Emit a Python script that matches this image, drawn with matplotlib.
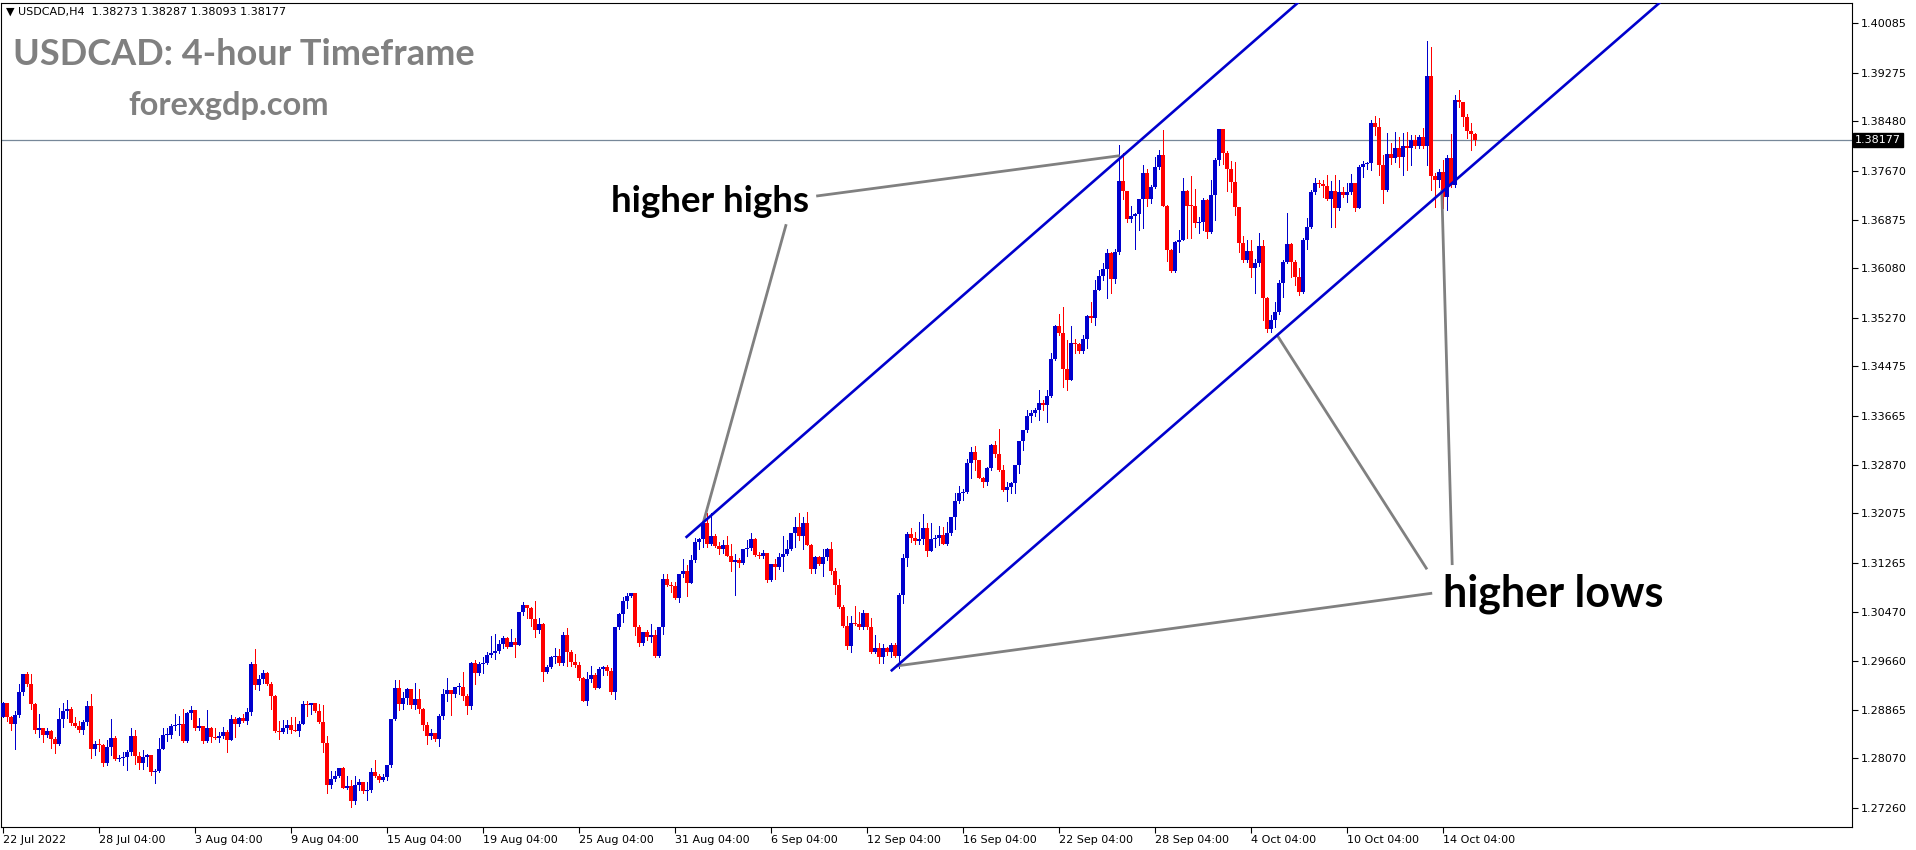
import matplotlib
matplotlib.use("Agg")
import matplotlib.pyplot as plt
import numpy as np

# ---------------- data (USDCAD H4) ----------------
first_open = 1.2875
close = [
1.2898,1.2875,1.2864,1.2878,1.2916,1.2945,1.2929,1.2896,1.2853,1.2856,
1.2845,1.2852,1.2839,1.2831,1.2871,1.2885,1.2887,1.2865,1.2860,1.2853,
1.2867,1.2892,1.2823,1.2831,1.2829,1.2800,1.2825,1.2840,1.2806,1.2808,
1.2809,1.2817,1.2843,1.2811,1.2799,1.2810,1.2812,1.2785,1.2786,1.2823,
1.2845,1.2846,1.2860,1.2861,1.2863,1.2835,1.2881,1.2886,1.2856,1.2860,
1.2835,1.2857,1.2842,1.2840,1.2844,1.2850,1.2837,1.2871,1.2863,1.2873,
1.2868,1.2883,1.2962,1.2927,1.2937,1.2947,1.2928,1.2909,1.2852,1.2850,
1.2857,1.2861,1.2854,1.2852,1.2864,1.2896,1.2894,1.2897,1.2885,1.2867,
1.2832,1.2763,1.2774,1.2778,1.2791,1.2759,1.2762,1.2737,1.2763,1.2768,
1.2754,1.2756,1.2785,1.2779,1.2771,1.2776,1.2797,1.2871,1.2922,1.2896,
1.2905,1.2920,1.2895,1.2904,1.2888,1.2861,1.2844,1.2848,1.2839,1.2877,
1.2913,1.2919,1.2913,1.2923,1.2924,1.2909,1.2893,1.2963,1.2947,1.2961,
1.2963,1.2976,1.2980,1.2982,1.2994,1.3004,1.2989,1.2997,1.2993,1.3046,
1.3057,1.3052,1.3035,1.3017,1.3027,1.2948,1.2957,1.2973,1.2974,1.2963,
1.3009,1.2981,1.2965,1.2959,1.2938,1.2901,1.2937,1.2943,1.2922,1.2953,
1.2956,1.2950,1.2915,1.3022,1.3043,1.3064,1.3073,1.3077,1.3022,1.2995,
1.3013,1.3006,1.3009,1.2974,1.3022,1.3101,1.3090,1.3089,1.3069,1.3108,
1.3114,1.3094,1.3131,1.3161,1.3165,1.3192,1.3157,1.3170,1.3154,1.3149,
1.3156,1.3138,1.3128,1.3131,1.3126,1.3149,1.3151,1.3165,1.3139,1.3137,
1.3142,1.3099,1.3125,1.3119,1.3136,1.3141,1.3150,1.3176,1.3185,1.3170,
1.3192,1.3156,1.3116,1.3136,1.3125,1.3136,1.3149,1.3114,1.3090,1.3055,
1.3023,1.2991,1.3028,1.3027,1.3021,1.3045,1.3021,1.2981,1.2988,1.2972,
1.2987,1.2981,1.2992,1.2974,1.3074,1.3135,1.3174,1.3168,1.3163,1.3165,
1.3183,1.3146,1.3165,1.3168,1.3172,1.3157,1.3175,1.3201,1.3227,1.3241,
1.3242,1.3289,1.3308,1.3295,1.3266,1.3258,1.3281,1.3319,1.3305,1.3278,
1.3246,1.3250,1.3257,1.3286,1.3326,1.3343,1.3366,1.3371,1.3377,1.3387,
1.3384,1.3399,1.3459,1.3513,1.3502,1.3443,1.3425,1.3486,1.3484,1.3472,
1.3493,1.3530,1.3526,1.3573,1.3595,1.3606,1.3633,1.3590,1.3635,1.3751,
1.3735,1.3688,1.3693,1.3697,1.3721,1.3764,1.3721,1.3740,1.3773,1.3793,
1.3710,1.3638,1.3604,1.3651,1.3655,1.3735,1.3710,1.3709,1.3682,1.3684,
1.3720,1.3668,1.3728,1.3785,1.3835,1.3796,1.3771,1.3749,1.3708,1.3649,
1.3621,1.3637,1.3608,1.3617,1.3644,1.3560,1.3508,1.3524,1.3537,1.3584,
1.3619,1.3648,1.3619,1.3594,1.3570,1.3655,1.3676,1.3733,1.3747,1.3745,
1.3743,1.3722,1.3735,1.3706,1.3733,1.3728,1.3733,1.3747,1.3706,1.3774,
1.3778,1.3780,1.3846,1.3839,1.3777,1.3736,1.3795,1.3789,1.3804,1.3790,
1.3808,1.3805,1.3818,1.3807,1.3823,1.3807,1.3922,1.3759,1.3753,1.3766,
1.3724,1.3789,1.3744,1.3883,1.3880,1.3855,1.3833,1.38273,1.38177]
high = [
1.2899,1.2897,1.2876,1.2885,1.2928,1.2945,1.2948,1.2945,1.2897,1.2879,
1.2856,1.2856,1.2853,1.2842,1.2889,1.2898,1.2902,1.2891,1.2875,1.2868,
1.2870,1.2901,1.2912,1.2836,1.2838,1.2831,1.2837,1.2871,1.2844,1.2813,
1.2817,1.2820,1.2856,1.2854,1.2818,1.2820,1.2814,1.2812,1.2789,1.2840,
1.2856,1.2857,1.2864,1.2879,1.2876,1.2887,1.2883,1.2892,1.2886,1.2873,
1.2860,1.2886,1.2859,1.2857,1.2850,1.2859,1.2853,1.2878,1.2874,1.2875,
1.2879,1.2890,1.2965,1.2986,1.2943,1.2951,1.2949,1.2932,1.2910,1.2868,
1.2870,1.2870,1.2874,1.2874,1.2868,1.2901,1.2901,1.2898,1.2896,1.2896,
1.2894,1.2843,1.2787,1.2787,1.2791,1.2793,1.2778,1.2771,1.2778,1.2773,
1.2769,1.2768,1.2791,1.2804,1.2782,1.2782,1.2797,1.2872,1.2935,1.2935,
1.2916,1.2922,1.2921,1.2930,1.2921,1.2889,1.2866,1.2855,1.2849,1.2879,
1.2920,1.2938,1.2919,1.2924,1.2931,1.2948,1.2912,1.2965,1.2968,1.2965,
1.2973,1.2981,1.3007,1.3010,1.3000,1.3007,1.3006,1.3019,1.3003,1.3046,
1.3063,1.3057,1.3054,1.3064,1.3037,1.3028,1.2960,1.2975,1.2988,1.2985,
1.3013,1.3020,1.2984,1.2977,1.2965,1.2940,1.2948,1.2958,1.2946,1.2956,
1.2958,1.2960,1.2954,1.3022,1.3044,1.3070,1.3077,1.3078,1.3077,1.3025,
1.3013,1.3017,1.3027,1.3017,1.3022,1.3108,1.3109,1.3096,1.3096,1.3109,
1.3133,1.3123,1.3139,1.3167,1.3168,1.3197,1.3208,1.3208,1.3174,1.3161,
1.3164,1.3170,1.3157,1.3141,1.3134,1.3150,1.3164,1.3176,1.3167,1.3145,
1.3148,1.3141,1.3125,1.3133,1.3143,1.3170,1.3164,1.3176,1.3202,1.3208,
1.3202,1.3210,1.3158,1.3138,1.3138,1.3149,1.3151,1.3161,1.3118,1.3101,
1.3058,1.3039,1.3039,1.3056,1.3047,1.3049,1.3039,1.3036,1.3009,1.2995,
1.2994,1.2989,1.2995,1.2995,1.3077,1.3141,1.3177,1.3183,1.3177,1.3194,
1.3207,1.3192,1.3191,1.3172,1.3186,1.3185,1.3194,1.3202,1.3241,1.3252,
1.3248,1.3297,1.3316,1.3318,1.3295,1.3267,1.3284,1.3320,1.3326,1.3345,
1.3286,1.3258,1.3259,1.3286,1.3326,1.3343,1.3376,1.3376,1.3379,1.3409,
1.3393,1.3409,1.3469,1.3515,1.3534,1.3545,1.3491,1.3514,1.3492,1.3486,
1.3499,1.3531,1.3553,1.3589,1.3605,1.3616,1.3639,1.3635,1.3640,1.3809,
1.3796,1.3733,1.3710,1.3698,1.3722,1.3777,1.3771,1.3744,1.3790,1.3801,
1.3834,1.3711,1.3640,1.3653,1.3670,1.3755,1.3736,1.3758,1.3737,1.3692,
1.3723,1.3721,1.3752,1.3788,1.3835,1.3827,1.3799,1.3784,1.3782,1.3708,
1.3660,1.3654,1.3654,1.3623,1.3665,1.3654,1.3561,1.3531,1.3553,1.3589,
1.3621,1.3698,1.3649,1.3621,1.3608,1.3657,1.3690,1.3736,1.3755,1.3752,
1.3752,1.3760,1.3750,1.3760,1.3753,1.3740,1.3748,1.3762,1.3748,1.3777,
1.3784,1.3782,1.3850,1.3857,1.3853,1.3793,1.3829,1.3812,1.3831,1.3823,
1.3829,1.3830,1.3826,1.3826,1.3826,1.3837,1.3979,1.3970,1.3763,1.3770,
1.3785,1.3793,1.3828,1.3891,1.3900,1.3880,1.3860,1.3845,1.38287]
low = [
1.2874,1.2868,1.2853,1.2823,1.2875,1.2911,1.2925,1.2888,1.2849,1.2842,
1.2834,1.2842,1.2824,1.2816,1.2829,1.2859,1.2873,1.2862,1.2858,1.2850,
1.2847,1.2861,1.2807,1.2813,1.2819,1.2794,1.2796,1.2812,1.2804,1.2802,
1.2796,1.2788,1.2813,1.2798,1.2789,1.2789,1.2795,1.2780,1.2767,1.2785,
1.2822,1.2835,1.2841,1.2853,1.2845,1.2834,1.2834,1.2872,1.2853,1.2853,
1.2832,1.2834,1.2834,1.2839,1.2834,1.2840,1.2818,1.2837,1.2842,1.2860,
1.2867,1.2864,1.2878,1.2921,1.2919,1.2931,1.2927,1.2888,1.2850,1.2839,
1.2849,1.2848,1.2849,1.2851,1.2843,1.2863,1.2877,1.2879,1.2883,1.2865,
1.2817,1.2750,1.2759,1.2770,1.2777,1.2758,1.2757,1.2727,1.2733,1.2755,
1.2750,1.2739,1.2752,1.2777,1.2768,1.2770,1.2772,1.2793,1.2870,1.2886,
1.2888,1.2896,1.2890,1.2888,1.2882,1.2853,1.2830,1.2838,1.2836,1.2828,
1.2872,1.2900,1.2878,1.2908,1.2913,1.2902,1.2879,1.2887,1.2928,1.2944,
1.2946,1.2961,1.2973,1.2970,1.2980,1.2987,1.2988,1.2990,1.2972,1.2993,
1.3041,1.3037,1.3024,1.3006,1.3012,1.2934,1.2946,1.2954,1.2963,1.2960,
1.2959,1.2958,1.2958,1.2957,1.2935,1.2900,1.2894,1.2932,1.2921,1.2922,
1.2943,1.2943,1.2913,1.2904,1.3019,1.3030,1.3052,1.3071,1.3009,1.2991,
1.2993,1.3001,1.2998,1.2972,1.2972,1.3010,1.3088,1.3079,1.3067,1.3063,
1.3104,1.3073,1.3093,1.3128,1.3150,1.3153,1.3152,1.3155,1.3152,1.3141,
1.3142,1.3137,1.3114,1.3074,1.3119,1.3125,1.3137,1.3148,1.3138,1.3134,
1.3134,1.3096,1.3097,1.3100,1.3116,1.3114,1.3139,1.3148,1.3153,1.3164,
1.3150,1.3156,1.3110,1.3110,1.3123,1.3105,1.3131,1.3109,1.3076,1.3052,
1.3022,1.2985,1.2981,1.3025,1.3018,1.3018,1.3018,1.2980,1.2979,1.2963,
1.2963,1.2976,1.2973,1.2973,1.2954,1.3061,1.3121,1.3161,1.3157,1.3157,
1.3158,1.3138,1.3146,1.3153,1.3156,1.3157,1.3156,1.3172,1.3182,1.3225,
1.3229,1.3240,1.3265,1.3278,1.3265,1.3250,1.3254,1.3279,1.3300,1.3276,
1.3244,1.3227,1.3240,1.3240,1.3274,1.3311,1.3341,1.3357,1.3366,1.3360,
1.3376,1.3357,1.3398,1.3458,1.3499,1.3414,1.3409,1.3425,1.3469,1.3469,
1.3469,1.3477,1.3521,1.3515,1.3573,1.3589,1.3559,1.3567,1.3584,1.3632,
1.3722,1.3684,1.3684,1.3640,1.3670,1.3673,1.3709,1.3714,1.3739,1.3771,
1.3709,1.3620,1.3602,1.3602,1.3635,1.3654,1.3657,1.3657,1.3676,1.3665,
1.3670,1.3658,1.3665,1.3687,1.3777,1.3779,1.3735,1.3733,1.3695,1.3635,
1.3619,1.3619,1.3594,1.3568,1.3612,1.3523,1.3504,1.3504,1.3512,1.3534,
1.3561,1.3616,1.3594,1.3581,1.3564,1.3567,1.3640,1.3673,1.3730,1.3740,
1.3725,1.3719,1.3676,1.3675,1.3703,1.3725,1.3717,1.3730,1.3702,1.3706,
1.3757,1.3771,1.3769,1.3826,1.3760,1.3714,1.3735,1.3779,1.3782,1.3774,
1.3760,1.3769,1.3777,1.3804,1.3804,1.3804,1.3777,1.3736,1.3708,1.3741,
1.3706,1.3703,1.3741,1.3741,1.3871,1.3840,1.3821,1.3801,1.38093]

price_ticks = [1.40085, 1.39275, 1.38480, 1.37670, 1.36875, 1.36080, 1.35270,
               1.34475, 1.33665, 1.32870, 1.32075, 1.31265, 1.30470, 1.29660,
               1.28865, 1.28070, 1.27260]
time_labels = ["22 Jul 2022", "28 Jul 04:00", "3 Aug 04:00", "9 Aug 04:00",
               "15 Aug 04:00", "19 Aug 04:00", "25 Aug 04:00", "31 Aug 04:00",
               "6 Sep 04:00", "12 Sep 04:00", "16 Sep 04:00", "22 Sep 04:00",
               "28 Sep 04:00", "4 Oct 04:00", "10 Oct 04:00", "14 Oct 04:00"]
bars_per_label = 24
bid = 1.38177
header = "\u25BC USDCAD,H4  1.38273 1.38287 1.38093 1.38177"

# channel lines: two points each (bar, price)
upper_channel = [(170.9, 1.3169), (295.9, 1.3883)]
lower_channel = [(222.2, 1.2951), (384.25, 1.3872)]
# annotation pointer lines (bar, price) pairs
hh_lines = [[(203.3, 1.3726), (279.2, 1.3792)],
            [(195.8, 1.3680), (175.1, 1.3193)]]
hl_lines = [[(357.3, 1.3077), (223.3, 1.2958)],
            [(356.0, 1.3116), (318.5, 1.3499)],
            [(362.3, 1.3123), (359.7, 1.3736)]]

# ---------------- drawing ----------------
W, H = 1916, 850
fig = plt.figure(figsize=(W / 100, H / 100), dpi=100)
fig.patch.set_facecolor("white")
ax = fig.add_axes([1 / W, 1 - 827 / H, (1852 - 1) / W, (827 - 2.7) / H])

n = len(close)
x = np.arange(n)
c = np.array(close)
o = np.concatenate([[first_open], c[:-1]])
hi = np.array(high)
lo = np.array(low)
up = c >= o
BLUE, RED = "#0000CD", "#FF0000"
cols = np.where(up, BLUE, RED)

ax.vlines(x, lo, hi, colors=cols, linewidth=0.72, zorder=2, antialiased=False)
bottom = np.minimum(o, c)
height = np.maximum(np.abs(c - o), 0.00016)
ax.bar(x, height, bottom=bottom, width=0.8, color=cols, linewidth=0, zorder=3,
       antialiased=False)

# bid line
ax.axhline(bid, color="#778899", linewidth=0.9, zorder=1)

xmax = 462.25
def ext(pts):
    (x0, y0), (x1, y1) = pts
    s = (y1 - y0) / (x1 - x0)
    return [x0, xmax], [y0, y0 + s * (xmax - x0)]

GRAY = "#808080"
for seg in hh_lines + hl_lines:
    (a, b), (cc, d) = seg
    ax.plot([a, cc], [b, d], color=GRAY, linewidth=2.0, solid_capstyle="butt", zorder=4)

for ch in (upper_channel, lower_channel):
    xs, ys = ext(ch)
    ax.plot(xs, ys, color=BLUE, linewidth=1.9, zorder=5)

ax.set_xlim(-0.5, xmax)
ax.set_ylim(1.26949, 1.40420)

# axes styling
for s in ax.spines.values():
    s.set_color("black")
    s.set_linewidth(0.8)
ax.yaxis.tick_right()
ax.set_yticks(price_ticks)
ax.set_yticklabels([f"{v:.5f}" for v in price_ticks])
ax.set_xticks([i * bars_per_label for i in range(len(time_labels))])
ax.set_xticklabels(time_labels, ha="left")
ax.tick_params(axis="both", direction="out", length=4, width=0.8, colors="black",
               labelsize=8, pad=2)
for lbl in ax.get_xticklabels():
    lbl.set_horizontalalignment("left")

# bid label
ax.text(1.0017, bid, f"{bid:.5f}", transform=ax.get_yaxis_transform(),
        ha="left", va="center", color="white", fontsize=8,
        bbox=dict(facecolor="black", edgecolor="black", pad=1.6), zorder=10)

# texts
fig.text(6 / W, 1 - 12 / H, header, fontsize=8, va="center", ha="left", color="black")
fig.text(13 / W, 1 - 65 / H, "USDCAD: 4-hour Timeframe", fontsize=26, fontweight="bold",
         color=GRAY, family="Lato", va="baseline", ha="left")
fig.text(128 / W, 1 - 115 / H, "forexgdp.com", fontsize=23.5, fontweight="bold",
         color=GRAY, family="Lato", va="baseline", ha="left")
fig.text(710 / W, 1 - 202 / H, "higher highs", fontsize=26.5, fontweight="bold",
         color="black", family="Lato", va="center", ha="center")
fig.text(1553 / W, 1 - 594 / H, "higher lows", fontsize=31, fontweight="bold",
         color="black", family="Lato", va="center", ha="center")

fig.savefig("out.png", dpi=100, facecolor="white")
